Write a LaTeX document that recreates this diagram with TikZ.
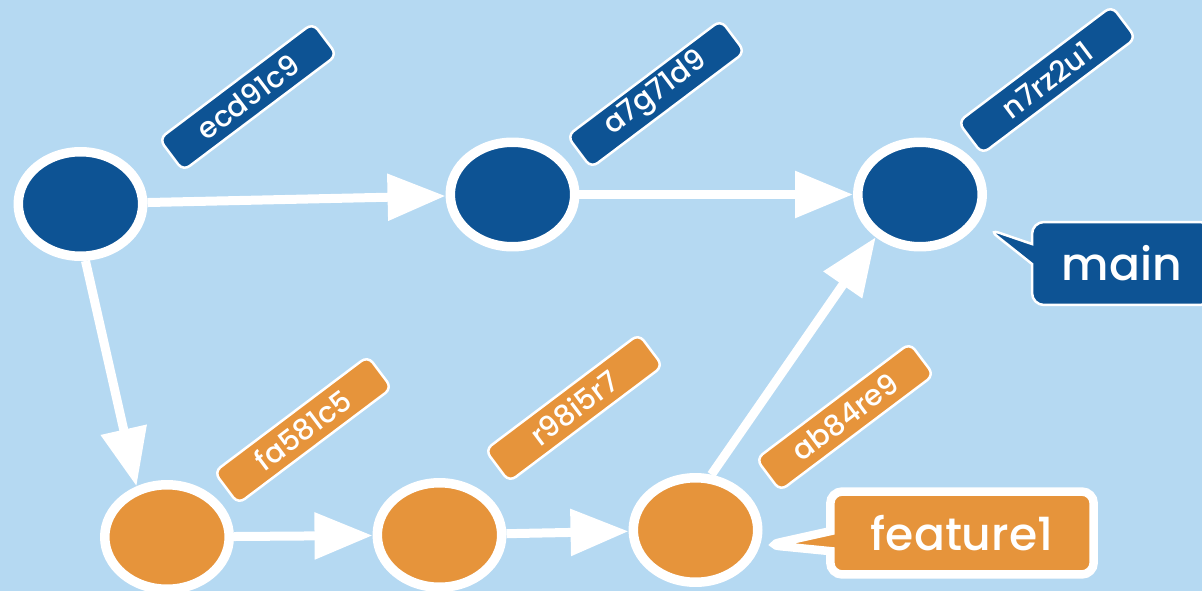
\documentclass[tikz,border=0pt]{standalone}
\usepackage{fontspec}
\setmainfont{Poppins Medium}
\usepackage{xcolor}
\usetikzlibrary{arrows.meta,shapes.geometric,shapes.callouts}
\definecolor{bgblue}{HTML}{B5D9F2}
\definecolor{mainblue}{HTML}{0D5394}
\definecolor{featorange}{HTML}{E6943B}

\begin{document}
\begin{tikzpicture}[
  x=0.02cm, y=-0.02cm,
  commit/.style={ellipse,draw=white,line width=0.19cm,minimum width=2.49cm,minimum height=2.09cm,inner sep=0pt},
  hashtag/.style={rectangle,draw=white,line width=0.05cm,rounded corners=0.16cm,rotate=37,minimum width=3.85cm,minimum height=0.8cm,inner sep=0pt,text=white,font=\fontsize{16.5}{16.5}\selectfont},
  branch/.style={rectangle callout,rounded corners=0.24cm,text=white,inner sep=0pt,font=\fontsize{26}{26}\selectfont,callout pointer width=0.4cm},
  arr/.style={-{Triangle[length=1.16cm,width=0.9cm]},draw=white,line width=0.18cm}
]
\useasboundingbox (0,0) rectangle (1202,591);
\clip (0,0) rectangle (1202,591);
\fill[bgblue] (0,0) rectangle (1202,591);

\node[commit,fill=mainblue] (c1) at (80.5,204) {};
\node[commit,fill=mainblue] (c2) at (512.5,194.5) {};
\node[commit,fill=mainblue] (c3) at (920,194.5) {};
\node[commit,fill=featorange] (o1) at (167,537) {};
\node[commit,fill=featorange] (o2) at (439.5,535) {};
\node[commit,fill=featorange] (o3) at (695.5,530) {};

\node[hashtag,fill=mainblue] (h1) at (248,97) {ecd91c9};
\node[hashtag,fill=mainblue] (h2) at (656,94) {a7g71d9};
\node[hashtag,fill=mainblue] (h3) at (1047,80) {n7rz2u1};
\node[hashtag,fill=featorange] (h4) at (303,430) {fa581c5};
\node[hashtag,fill=featorange] (h5) at (574,408) {r98i5r7};
\node[hashtag,fill=featorange] (h6) at (845,417) {ab84re9};

\coordinate (maintip) at (988,229);
\coordinate (feattip) at (768,545);
\node[branch,fill=mainblue,draw=white,line width=0.05cm,minimum width=3.6cm,minimum height=1.66cm,callout absolute pointer=(maintip)] (main) at (1122,263.5) {main};
\node[branch,fill=featorange,draw=white,line width=0.17cm,minimum width=5.27cm,minimum height=1.66cm,callout absolute pointer=(feattip)] (feature) at (962,533) {feature1};

\draw[arr] (c1) -- (c2);
\draw[arr] (c2) -- (c3);
\draw[arr] (c1.-85) -- (o1.121);
\draw[arr] (o1) -- (o2);
\draw[arr] (o2) -- (o3);
\draw[arr] (o3.74) -- (c3.224);
\end{tikzpicture}
\end{document}
